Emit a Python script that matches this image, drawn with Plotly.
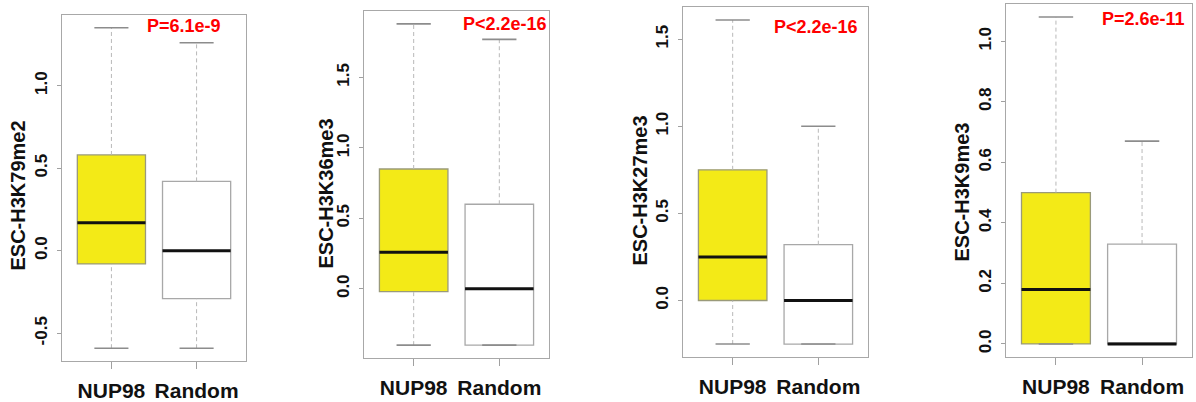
import plotly.graph_objects as go

# ---------------- data ----------------
categories = ["NUP98", "Random"]
marks = ["ESC-H3K79me2", "ESC-H3K36me3", "ESC-H3K27me3", "ESC-H3K9me3"]
p_labels = ["P=6.1e-9", "P<2.2e-16", "P<2.2e-16", "P=2.6e-11"]

# each list: [lower whisker, Q1, median, Q3, upper whisker]
h3k79me2_nup98 = [-0.59, -0.08, 0.17, 0.58, 1.35]
h3k79me2_random = [-0.59, -0.29, 0.00, 0.42, 1.26]
h3k36me3_nup98 = [-0.40, -0.02, 0.26, 0.85, 1.88]
h3k36me3_random = [-0.40, -0.40, 0.00, 0.60, 1.77]
h3k27me3_nup98 = [-0.25, 0.00, 0.25, 0.75, 1.61]
h3k27me3_random = [-0.25, -0.25, 0.00, 0.32, 1.00]
h3k9me3_nup98 = [0.00, 0.00, 0.18, 0.50, 1.08]
h3k9me3_random = [0.00, 0.00, 0.00, 0.33, 0.67]

# y tick values per panel
ticks_h3k79me2 = [-0.5, 0.0, 0.5, 1.0]
ticks_h3k36me3 = [0.0, 0.5, 1.0, 1.5]
ticks_h3k27me3 = [0.0, 0.5, 1.0, 1.5]
ticks_h3k9me3 = [0.0, 0.2, 0.4, 0.6, 0.8, 1.0]

panel_stats = [
    (h3k79me2_nup98, h3k79me2_random),
    (h3k36me3_nup98, h3k36me3_random),
    (h3k27me3_nup98, h3k27me3_random),
    (h3k9me3_nup98, h3k9me3_random),
]
panel_ticks = [ticks_h3k79me2, ticks_h3k36me3, ticks_h3k27me3, ticks_h3k9me3]

# ---------------- layout (pixels) ----------------
W, H = 1196, 402
frames_px = [  # left, right, top, bottom
    (62, 246, 15, 361),
    (364, 549, 11, 358),
    (683, 868, 7, 357),
    (1006, 1192, 4, 357),
]
title_px = [(17.5, 196), (325.5, 194), (639.5, 190), (961.5, 192)]
p_px = [(145, 26), (461, 24), (772, 26.5), (1100, 18.5)]

fill_colors = ["#F3EA17", "#FFFFFF"]
box_line_colors = ["#9a9a7a", "#a8a8a8"]
frame_color = "#a8a8a8"
font_family = "Liberation Sans, Arial, sans-serif"

fig = go.Figure()
half_box = 0.4
half_cap = 0.2
positions = [1, 2]

for i, stats in enumerate(panel_stats):
    xa = "x" if i == 0 else f"x{i+1}"
    ya = "y" if i == 0 else f"y{i+1}"
    for j, s in enumerate(stats):
        lo, q1, med, q3, hi = s
        pos = positions[j]
        # dashed whiskers
        fig.add_trace(go.Scatter(
            x=[pos, pos, None, pos, pos], y=[q3, hi, None, lo, q1],
            mode="lines", line=dict(color="#b8b8b8", width=1, dash="4px,3px"),
            xaxis=xa, yaxis=ya, showlegend=False, hoverinfo="skip"))
        # caps
        fig.add_trace(go.Scatter(
            x=[pos - half_cap, pos + half_cap, None, pos - half_cap, pos + half_cap],
            y=[hi, hi, None, lo, lo],
            mode="lines", line=dict(color="#8c8c8c", width=1.6),
            xaxis=xa, yaxis=ya, showlegend=False, hoverinfo="skip"))
        # box body
        fig.add_trace(go.Box(
            x=[pos], q1=[q1], median=[med], q3=[q3],
            lowerfence=[q1], upperfence=[q3],
            width=2 * half_box, whiskerwidth=0,
            fillcolor=fill_colors[j],
            line=dict(color=box_line_colors[j], width=1.3),
            boxpoints=False, xaxis=xa, yaxis=ya,
            showlegend=False, hoverinfo="skip"))
        # thick black median
        fig.add_trace(go.Scatter(
            x=[pos - half_box, pos + half_box], y=[med, med],
            mode="lines", line=dict(color="#111111", width=3),
            xaxis=xa, yaxis=ya, showlegend=False, hoverinfo="skip"))

    # axis ranges padded 4% like R
    all_vals = list(stats[0]) + list(stats[1])
    lo_v, hi_v = min(all_vals), max(all_vals)
    pad = 0.04 * (hi_v - lo_v)
    l, r, t, b = frames_px[i]
    xkey = "xaxis" if i == 0 else f"xaxis{i+1}"
    ykey = "yaxis" if i == 0 else f"yaxis{i+1}"
    tv = panel_ticks[i]
    fig.update_layout(**{
        xkey: dict(
            domain=[l / W, r / W], anchor=ya,
            range=[0.42, 2.58], tickvals=positions, ticktext=categories,
            showgrid=False, zeroline=False,
            showline=True, mirror=True, linecolor=frame_color, linewidth=1,
            ticks="outside", ticklen=7, tickcolor="#a0a0a0", tickwidth=1,
            ticklabelstandoff=4,
            tickfont=dict(family=font_family, size=21, color="#111111", weight="bold"),
        ),
        ykey: dict(
            domain=[1 - b / H, 1 - t / H], anchor=xa,
            range=[lo_v - pad, hi_v + pad],
            tickvals=tv, ticktext=[f"{v:.1f}" for v in tv], tickangle=-90,
            showgrid=False, zeroline=False,
            showline=True, mirror=True, linecolor=frame_color, linewidth=1,
            ticks="outside", ticklen=4, tickcolor="#a0a0a0", tickwidth=1,
            ticklabelstandoff=3,
            tickfont=dict(family=font_family, size=17, color="#111111", weight="bold"),
        ),
    })

annotations = []
for i in range(4):
    tx, ty = title_px[i]
    annotations.append(dict(
        text=marks[i], x=tx / W, y=1 - ty / H, xref="paper", yref="paper",
        xanchor="center", yanchor="middle", textangle=-90, showarrow=False,
        font=dict(family=font_family, size=20, color="#111111", weight="bold")))
    px_, py_ = p_px[i]
    annotations.append(dict(
        text=p_labels[i], x=px_ / W, y=1 - py_ / H, xref="paper", yref="paper",
        xanchor="left", yanchor="middle", showarrow=False,
        font=dict(family=font_family, size=18, color="#FF0000", weight="bold")))

fig.update_layout(
    width=W, height=H, margin=dict(l=0, r=0, t=0, b=0),
    paper_bgcolor="white", plot_bgcolor="white",
    annotations=annotations, showlegend=False,
)

fig.write_html("out.html")
